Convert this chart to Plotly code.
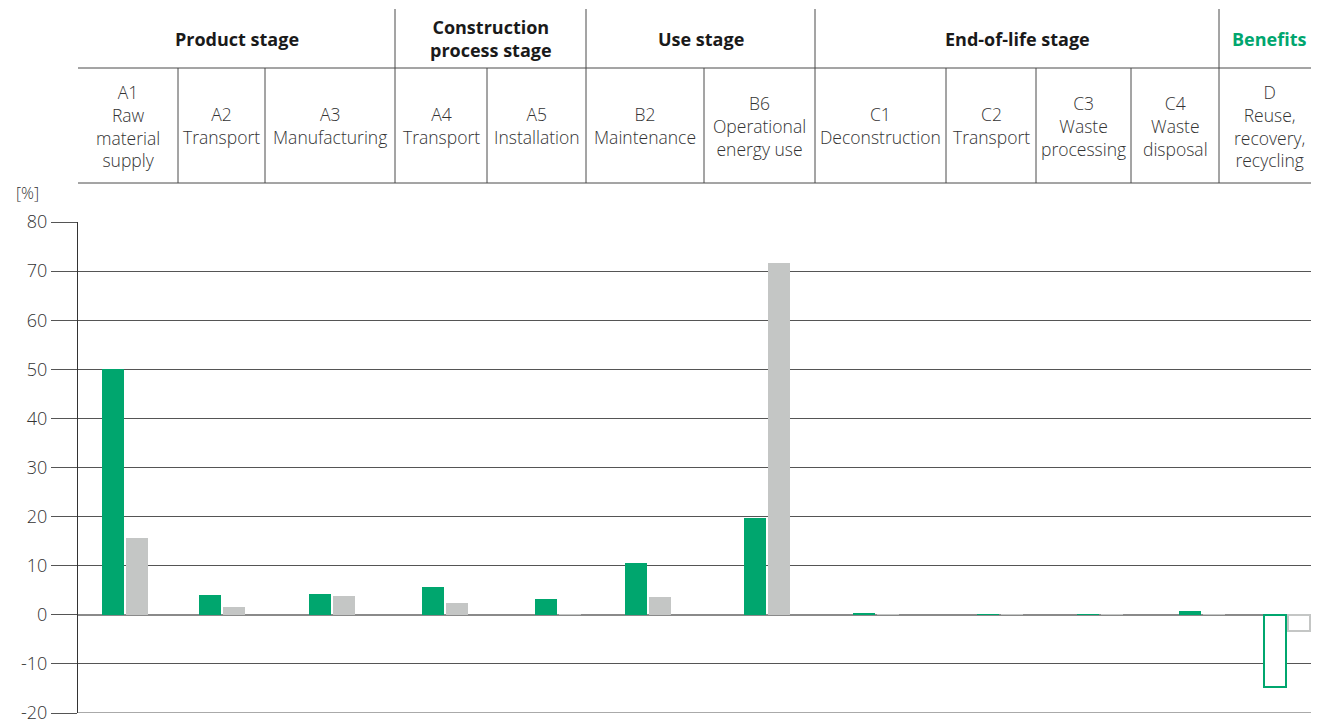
import plotly.graph_objects as go

# ---- data ----
modules = ["A1", "A2", "A3", "A4", "A5", "B2", "B6", "C1", "C2", "C3", "C4", "D"]
module_names = ["Raw<br>material<br>supply", "Transport", "Manufacturing", "Transport",
                "Installation", "Maintenance", "Operational<br>energy use", "Deconstruction",
                "Transport", "Waste<br>processing", "Waste<br>disposal", "Reuse,<br>recovery,<br>recycling"]
stages = ["Product stage", "Construction<br>process stage", "Use stage", "End-of-life stage", "Benefits"]
stage_sizes = [3, 2, 2, 4, 1]
series_green = [50.1, 4.0, 4.3, 5.7, 3.3, 10.6, 19.8, 0.2, 0.1, 0.1, 0.7, -14.8]
series_gray = [15.7, 1.5, 3.8, 2.5, 0.1, 3.7, 71.7, 0.1, 0.1, 0.05, 0.1, -3.4]
y_ticks = [-20, -10, 0, 10, 20, 30, 40, 50, 60, 70, 80]
y_tick_text = ["-20", "-10", "0", "10", "20", "30", "40", "50", "60", "70", "80"]

# ---- layout geometry (pixel-like x units) ----
col_edges = [0, 100, 187, 317, 409, 508, 626, 737, 868, 958, 1053, 1141, 1241]
bar_pos = [47, 144, 254, 367, 480, 570, 689, 798, 921.5, 1022, 1124, 1209]

GREEN = "#00A66E"
GRAY = "#C4C6C5"
LINE = "#4a4a4a"
TXT = "#333333"
FONT = "Open Sans"

# page has an 8px body margin; figure placed at (8, 8)
W, H = 1311, 712
ML, MR, MT, MB = 70, 0, 214, 7
PH = H - MT - MB  # 491


def py(p):
    """page pixel y -> paper y"""
    return (713 - p) / PH


def style(vals, color):
    fill, lc, lw = [], [], []
    for m, v in zip(modules, vals):
        if m == "D":
            fill.append("white"); lc.append(color); lw.append(2)
        else:
            fill.append(color); lc.append(color); lw.append(0)
    return fill, lc, lw


fig = go.Figure()
for vals, color, off in [(series_green, GREEN, -23), (series_gray, GRAY, 1)]:
    fill, lc, lw = style(vals, color)
    fig.add_trace(go.Bar(x=bar_pos, y=vals, width=22, offset=off,
                         marker=dict(color=fill, line=dict(color=lc, width=lw)),
                         showlegend=False, hoverinfo="y", cliponaxis=False))

shapes = []
annotations = []
# bottom gridline (at range edge)
shapes.append(dict(type="line", xref="x", yref="y", x0=0, x1=1241,
                   y0=y_ticks[0], y1=y_ticks[0], line=dict(color="#555555", width=1)))
for yy in [68, 183]:
    shapes.append(dict(type="line", xref="x", yref="paper", x0=0, x1=1241,
                       y0=py(yy), y1=py(yy), line=dict(color=LINE, width=1)))
idx = 0
stage_bounds = []
for i, (st, n) in enumerate(zip(stages, stage_sizes)):
    x0 = col_edges[idx]; x1 = col_edges[idx + n]
    if i > 0:
        stage_bounds.append(x0)
        shapes.append(dict(type="line", xref="x", yref="paper", x0=x0, x1=x0,
                           y0=py(9), y1=py(183), line=dict(color=LINE, width=1)))
    annotations.append(dict(x=(x0 + x1) / 2, y=py(39), xref="x", yref="paper",
                            text="<b>%s</b>" % st, showarrow=False,
                            font=dict(family=FONT, size=18,
                                      color=GREEN if st == "Benefits" else "#1a1a1a"),
                            xanchor="center", yanchor="middle"))
    idx += n
for i, (m, nm) in enumerate(zip(modules, module_names)):
    x0 = col_edges[i]; x1 = col_edges[i + 1]
    if i > 0 and x0 not in stage_bounds:
        shapes.append(dict(type="line", xref="x", yref="paper", x0=x0, x1=x0,
                           y0=py(68), y1=py(183), line=dict(color=LINE, width=1)))
    annotations.append(dict(x=(x0 + x1) / 2, y=py(125.5), xref="x", yref="paper",
                            text="%s<br>%s" % (m, nm), showarrow=False,
                            font=dict(family=FONT, size=17.5, color=TXT, weight=300),
                            xanchor="center", yanchor="middle"))
annotations.append(dict(x=0, xshift=-37, y=py(193), xref="paper", yref="paper", text="[%]",
                        showarrow=False, font=dict(family=FONT, size=16, color=TXT, weight=300),
                        xanchor="right", yanchor="middle"))

fig.update_layout(
    width=W, height=H, margin=dict(l=ML, r=MR, t=MT, b=MB, autoexpand=False),
    plot_bgcolor="white", paper_bgcolor="white",
    barmode="overlay", bargap=0,
    xaxis=dict(range=[0, 1241], showgrid=False, showticklabels=False, zeroline=False,
               showline=False, ticks=""),
    yaxis=dict(range=[-20, 80], tickvals=y_ticks, ticktext=y_tick_text, showgrid=True,
               gridcolor="#555555", gridwidth=1, zeroline=True, zerolinecolor="#8a8a8a",
               zerolinewidth=2, showline=True, linecolor="#333333", linewidth=1,
               ticks="outside", ticklen=26, tickcolor="#555555", tickwidth=1,
               ticklabeloverflow="allow", automargin=False,
               tickfont=dict(family=FONT, size=18, color=TXT, weight=300)),
    shapes=shapes, annotations=annotations,
    font=dict(family=FONT),
)

fig.write_html("out.html")
